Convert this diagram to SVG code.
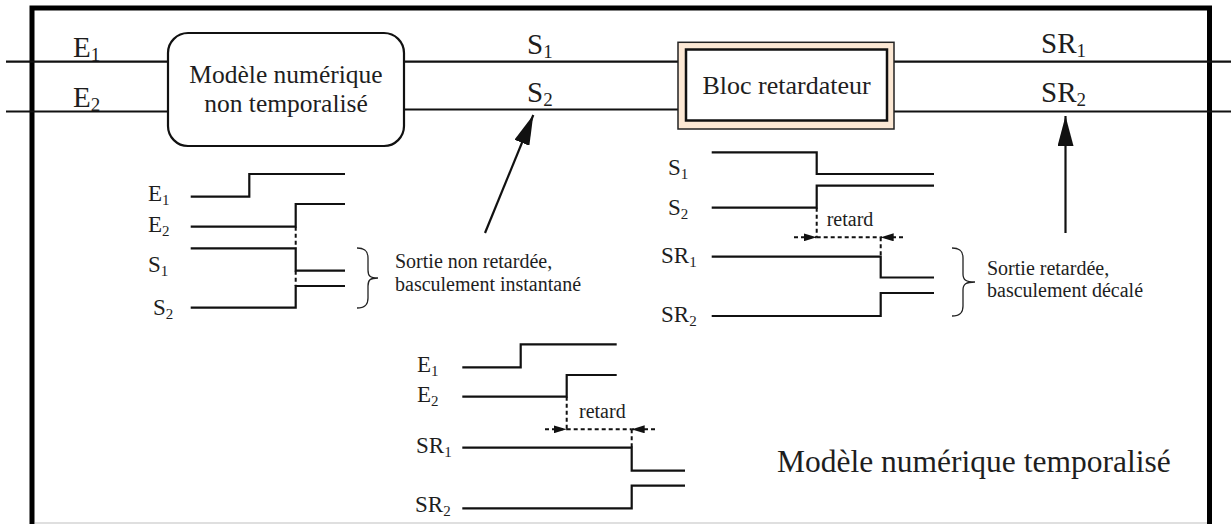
<svg xmlns="http://www.w3.org/2000/svg" width="1231" height="524" viewBox="0 0 1231 524">
<style>
.t{font-family:"Liberation Serif","Times New Roman",serif;fill:#1e1e1e}
.lbl{font-size:29px}
.sub{font-size:19px}
.slbl{font-size:23px}
.ssub{font-size:15px}
.box{font-size:25.5px}
.note{font-size:20px}
.sig{fill:none;stroke:#111;stroke-width:2.2}
.wire{fill:none;stroke:#111;stroke-width:2.2}
.dash{fill:none;stroke:#111;stroke-width:2;stroke-dasharray:4 3}
.brace{fill:none;stroke:#222;stroke-width:1.3}
</style>
<defs>
<marker id="ah" viewBox="0 0 30 16" refX="30" refY="8" markerWidth="30" markerHeight="16" markerUnits="userSpaceOnUse" orient="auto"><path d="M0,0 L30,8 L0,16 z" fill="#111"/></marker>
<marker id="sa" viewBox="0 0 13 8" refX="13" refY="4" markerWidth="13" markerHeight="8" markerUnits="userSpaceOnUse" orient="auto"><path d="M0,0 L13,4 L0,8 z" fill="#111"/></marker>
</defs>
<rect width="1231" height="524" fill="#fff"/>
<g id="frame">
<path d="M32,524 V8 H1209.5 V524" fill="none" stroke="#000" stroke-width="5"/>
<line x1="35" y1="523" x2="1207" y2="523" stroke="#d4d4d4" stroke-width="1.5"/>
</g>
<g id="connectors">
<path class="wire" d="M6,61.7 H168 M6,111.5 H168"/>
<path class="wire" d="M404,61.7 H678 M404,109.5 H678"/>
<path class="wire" d="M894,61.7 H1231 M894,111.5 H1231"/>
<path class="wire" d="M485,233 L533.3,115" marker-end="url(#ah)"/>
<path class="wire" d="M1065.5,233 V116" marker-end="url(#ah)"/>
</g>
<g id="node-modele">
<rect x="168" y="33" width="236" height="113" rx="20" fill="#fff" stroke="#111" stroke-width="2.2"/>
<text class="t box" x="286" y="83" text-anchor="middle">Modèle numérique</text>
<text class="t box" x="286" y="111.5" text-anchor="middle">non temporalisé</text>
</g>
<g id="node-bloc">
<rect x="678" y="42.3" width="216" height="86.7" fill="#fce8d4" stroke="#222" stroke-width="1.5"/>
<rect x="686" y="49.5" width="201" height="71" fill="#fff" stroke="#111" stroke-width="2.5"/>
<text class="t" x="786.5" y="94" text-anchor="middle" font-size="26">Bloc retardateur</text>
</g>
<g id="wire-labels">
<text class="t lbl" x="73" y="57">E<tspan class="sub" dy="4">1</tspan></text>
<text class="t lbl" x="73" y="107">E<tspan class="sub" dy="4">2</tspan></text>
<text class="t lbl" x="527" y="54">S<tspan class="sub" dy="4">1</tspan></text>
<text class="t lbl" x="527" y="102">S<tspan class="sub" dy="4">2</tspan></text>
<text class="t lbl" x="1041" y="53">SR<tspan class="sub" dy="4">1</tspan></text>
<text class="t lbl" x="1041" y="102">SR<tspan class="sub" dy="4">2</tspan></text>
</g>
<g id="chrono-non-retarde">
<text class="t slbl" x="148" y="201">E<tspan class="ssub" dy="4">1</tspan></text>
<text class="t slbl" x="148" y="232">E<tspan class="ssub" dy="4">2</tspan></text>
<text class="t slbl" x="148" y="272">S<tspan class="ssub" dy="4">1</tspan></text>
<text class="t slbl" x="153" y="315">S<tspan class="ssub" dy="4">2</tspan></text>
<path class="sig" d="M190.7,196.7 H249.3 V174 H345"/>
<path class="sig" d="M190.7,226.7 H295.7 V204 H345"/>
<path class="sig" d="M190.7,248.3 H295.7 V270.7 H345"/>
<path class="sig" d="M190.7,307.7 H295.7 V286 H345"/>
<path class="dash" d="M295.7,226.7 V248.3 M295.7,270.7 V286"/>
<path class="brace" d="M357,248 C366,248 368,252 368,258 V270 C368,276 370,278 378,278 C370,278 368,280 368,286 V298 C368,304 366,308 357,308"/>
<text class="t note" x="395" y="268">Sortie non retardée,</text>
<text class="t note" x="395" y="291">basculement instantané</text>
</g>
<g id="chrono-retarde">
<text class="t slbl" x="668" y="175">S<tspan class="ssub" dy="4">1</tspan></text>
<text class="t slbl" x="668" y="215">S<tspan class="ssub" dy="4">2</tspan></text>
<text class="t slbl" x="661" y="263">SR<tspan class="ssub" dy="4">1</tspan></text>
<text class="t slbl" x="661" y="322">SR<tspan class="ssub" dy="4">2</tspan></text>
<path class="sig" d="M711.7,152.3 H816.7 V174 H934"/>
<path class="sig" d="M711.7,207.7 H816.7 V185.7 H934"/>
<path class="dash" d="M816.7,207.7 V237.3"/>
<path class="dash" d="M794,237.3 H816.7" marker-end="url(#sa)"/>
<path class="dash" d="M816.7,237.3 H880.7"/>
<path class="dash" d="M903,237.3 H880.7" marker-end="url(#sa)"/>
<path class="dash" d="M880.7,237.3 V256.7"/>
<text class="t note" x="826.7" y="226">retard</text>
<path class="sig" d="M711.7,256.7 H880.7 V277.5 H934"/>
<path class="sig" d="M711.7,316 H880.7 V293 H934"/>
<path class="brace" d="M952,248 C961,248 963,252 963,258 V274 C963,280 966,282 975,282 C966,282 963,284 963,290 V306 C963,312 961,316 952,316"/>
<text class="t note" x="987" y="275">Sortie retardée,</text>
<text class="t note" x="987" y="297">basculement décalé</text>
</g>
<g id="chrono-temporalise">
<text class="t slbl" x="417" y="372">E<tspan class="ssub" dy="4">1</tspan></text>
<text class="t slbl" x="417" y="402">E<tspan class="ssub" dy="4">2</tspan></text>
<text class="t slbl" x="416" y="453">SR<tspan class="ssub" dy="4">1</tspan></text>
<text class="t slbl" x="415" y="512">SR<tspan class="ssub" dy="4">2</tspan></text>
<path class="sig" d="M462.3,367.3 H520.7 V344.3 H616.7"/>
<path class="sig" d="M462.3,396.7 H566.7 V375 H616.7"/>
<path class="dash" d="M566.7,396.7 V429.3"/>
<path class="dash" d="M545,429.3 H566.7" marker-end="url(#sa)"/>
<path class="dash" d="M566.7,429.3 H631.7"/>
<path class="dash" d="M655,429.3 H631.7" marker-end="url(#sa)"/>
<path class="dash" d="M631.7,429.3 V447.7"/>
<text class="t note" x="579" y="418.3">retard</text>
<path class="sig" d="M462.3,447.7 H631.7 V470.7 H685"/>
<path class="sig" d="M462.3,508.3 H631.7 V485.7 H685"/>
</g>
<g id="title">
<text class="t" x="777" y="472" font-size="31.5">Modèle numérique temporalisé</text>
</g>
</svg>
